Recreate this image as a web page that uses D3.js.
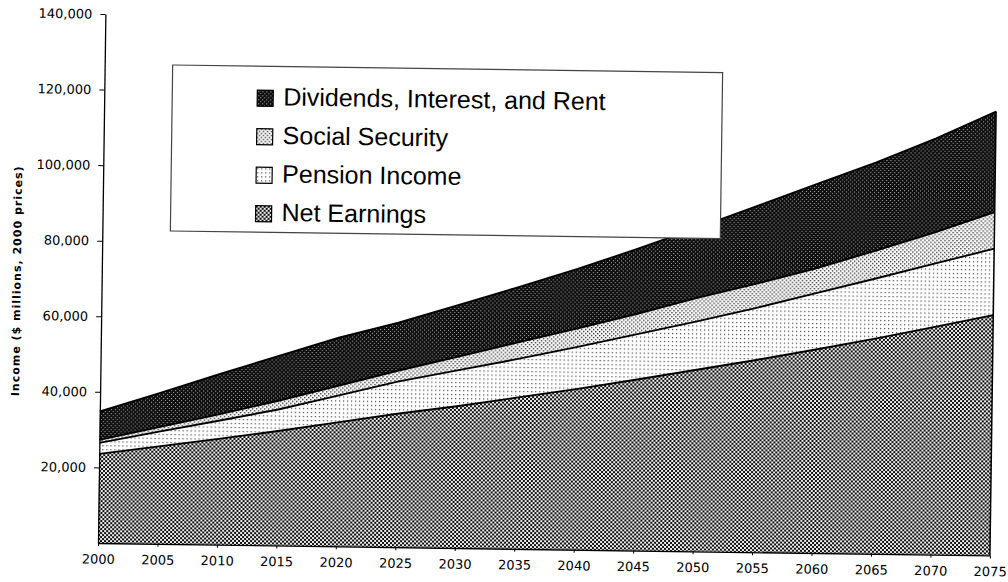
<!DOCTYPE html>
<html>
<head>
<meta charset="utf-8">
<script src="https://cdn.jsdelivr.net/npm/d3@7"></script>
<style>
  html, body { margin: 0; padding: 0; background: #ffffff; }
  svg { display: block; }
</style>
</head>
<body>
<svg id="chart" width="1008" height="582"></svg>
<script>
// Projected income sources, $ millions at 2000 prices
const years = [2000, 2005, 2010, 2015, 2020, 2025, 2030, 2035, 2040, 2045, 2050, 2055, 2060, 2065, 2070, 2075];
const netEarnings    = [23600, 25800, 28000, 30300, 32800, 35300, 37500, 40000, 42500, 45200, 48000, 50800, 53800, 56900, 60200, 63600];
const pensionIncome  = [2900, 3900, 4800, 5700, 7100, 8500, 9500, 10200, 11100, 12000, 12800, 13800, 14900, 15900, 16800, 17600];
const socialSecurity = [800, 1200, 1700, 2300, 2600, 2900, 3600, 4400, 4900, 5400, 6200, 6400, 6600, 7400, 8300, 9700];
const dividendsInterestRent = [7500, 9000, 10600, 11900, 12700, 12700, 13700, 14600, 15800, 17200, 18600, 20600, 22300, 23400, 24900, 26600];

const seriesKeys  = ["net", "pension", "social", "dividends"];
const seriesNames = ["Net Earnings", "Pension Income", "Social Security", "Dividends, Interest, and Rent"];
const yTickValues = [20000, 40000, 60000, 80000, 100000, 120000, 140000];
const xTickValues = years;
const yTitle = "Income ($ millions, 2000 prices)";

const rows = years.map((yr, i) => ({
  year: yr,
  net: netEarnings[i],
  pension: pensionIncome[i],
  social: socialSecurity[i],
  dividends: dividendsInterestRent[i]
}));

const svg = d3.select("#chart");
const defs = svg.append("defs");

// Hatch fills, one per income source
function makePattern(id, size, bg, draw) {
  const p = defs.append("pattern")
    .attr("id", id)
    .attr("patternUnits", "userSpaceOnUse")
    .attr("width", size).attr("height", size);
  p.append("rect").attr("width", size).attr("height", size).attr("fill", bg);
  draw(p);
}
makePattern("pat-net", 4, "#eeeeee", p => {
  p.append("rect").attr("x", 0).attr("y", 0).attr("width", 2).attr("height", 2).attr("fill", "#111");
  p.append("rect").attr("x", 2).attr("y", 2).attr("width", 2).attr("height", 2).attr("fill", "#111");
});
makePattern("pat-pension", 4, "#ffffff", p => {
  p.append("rect").attr("x", 1).attr("y", 1).attr("width", 1.2).attr("height", 1.2).attr("fill", "#444");
});
makePattern("pat-social", 4, "#ffffff", p => {
  p.append("rect").attr("x", 0).attr("y", 0).attr("width", 1.4).attr("height", 1.4).attr("fill", "#333");
  p.append("rect").attr("x", 2).attr("y", 2).attr("width", 1.4).attr("height", 1.4).attr("fill", "#333");
});
makePattern("pat-dividends", 4, "#0d0d0d", p => {
  p.append("rect").attr("x", 1).attr("y", 1).attr("width", 1.1).attr("height", 1.1).attr("fill", "#aaa");
  p.append("rect").attr("x", 3).attr("y", 3).attr("width", 1.1).attr("height", 1.1).attr("fill", "#aaa");
});
const fills = { net: "url(#pat-net)", pension: "url(#pat-pension)", social: "url(#pat-social)", dividends: "url(#pat-dividends)" };

const plotLeft = 98, plotRight = 990, plotTop = 14, plotBottom = 543;
const x = d3.scaleLinear().domain([2000, 2075]).range([plotLeft, plotRight]);
const y = d3.scaleLinear().domain([0, 140000]).range([plotBottom, plotTop]);

// The whole sheet sits slightly tilted
const g = svg.append("g").attr("transform", `rotate(0.8, ${plotLeft}, ${plotBottom})`);

const stack = d3.stack().keys(seriesKeys);
const layers = stack(rows);

const area = d3.area()
  .x(d => x(d.data.year))
  .y0(d => y(d[0]))
  .y1(d => y(d[1]));

g.append("g").selectAll("path")
  .data(layers)
  .join("path")
  .attr("d", area)
  .attr("fill", d => fills[d.key]);

const topLine = d3.line()
  .x(d => x(d.data.year))
  .y(d => y(d[1]));

g.append("g").selectAll("path")
  .data(layers)
  .join("path")
  .attr("d", topLine)
  .attr("fill", "none")
  .attr("stroke", "#000")
  .attr("stroke-width", 1.9);

// right edge of the stack
const last = layers[layers.length - 1][years.length - 1];
g.append("line")
  .attr("x1", x(2075)).attr("x2", x(2075))
  .attr("y1", y(0)).attr("y2", y(last[1]))
  .attr("stroke", "#000").attr("stroke-width", 1.5);

// Axes
const yAxis = d3.axisLeft(y)
  .tickValues(yTickValues)
  .tickSize(5)
  .tickSizeOuter(0)
  .tickPadding(8)
  .tickFormat(d3.format(","));
const yAxisG = g.append("g").attr("transform", `translate(${plotLeft},0)`).call(yAxis);

const xAxis = d3.axisBottom(x)
  .tickValues(xTickValues)
  .tickSize(3)
  .tickSizeOuter(0)
  .tickPadding(6)
  .tickFormat(d3.format("d"));
const xAxisG = g.append("g").attr("transform", `translate(0,${plotBottom})`).call(xAxis);

[yAxisG, xAxisG].forEach(a => {
  a.select(".domain").attr("stroke", "#000").attr("stroke-width", 1.3);
  a.selectAll(".tick line").attr("stroke", "#000");
  a.selectAll(".tick text")
    .attr("fill", "#000")
    .style("font-family", "'DejaVu Sans', Verdana, sans-serif")
    .style("font-size", "13px");
});
xAxisG.selectAll(".tick text").attr("dy", "0.9em");

// Axis title
g.append("text")
  .attr("transform", "translate(17,282) rotate(-90)")
  .attr("text-anchor", "middle")
  .style("font-family", "'DejaVu Sans', Verdana, sans-serif")
  .style("font-weight", "bold")
  .style("font-size", "11px")
  .style("letter-spacing", "1px")
  .attr("fill", "#000")
  .text(yTitle);

// Legend
const legend = g.append("g").attr("transform", "translate(166,64)");
legend.append("rect")
  .attr("width", 550).attr("height", 166)
  .attr("fill", "#fff")
  .attr("stroke", "#444").attr("stroke-width", 1.2);

const legendOrder = seriesKeys.slice().reverse();
const legendItems = legend.selectAll("g.item")
  .data(legendOrder)
  .join("g")
  .attr("class", "item")
  .attr("transform", (d, i) => `translate(85,${24 + i * 38.5})`);

legendItems.append("rect")
  .attr("width", 16).attr("height", 16)
  .attr("fill", d => fills[d])
  .attr("stroke", "#000").attr("stroke-width", 1.2);

legendItems.append("text")
  .attr("x", 26).attr("y", 15)
  .style("font-family", "'Liberation Sans', Arial, sans-serif")
  .style("font-size", "25px")
  .attr("fill", "#000")
  .text(d => seriesNames[seriesKeys.indexOf(d)]);
</script>
</body>
</html>
